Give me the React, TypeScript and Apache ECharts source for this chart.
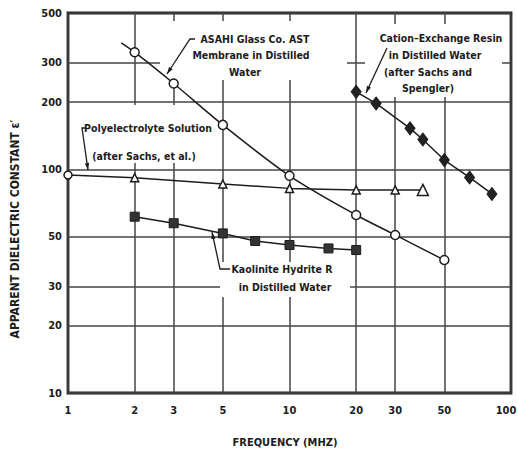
import React, { useEffect, useRef } from "react";
import * as echarts from "echarts";

const xTicks = [1, 2, 3, 5, 10, 20, 30, 50, 100];
const yTicks = [10, 20, 30, 50, 100, 200, 300, 500];

const asahiX = [1.74, 2, 3, 5, 10, 20, 30, 50];
const asahiY = [368, 334, 242, 158, 93.6, 62.5, 50.9, 39.3];
const polyX = [1, 2, 5, 10, 20, 30, 40];
const polyY = [94.3, 91.7, 86, 82.2, 80.9, 80.9, 80.9];
const kaolX = [2, 3, 5, 7, 10, 15, 20];
const kaolY = [61.4, 57.4, 51.7, 47.8, 45.9, 44.3, 43.6];
const cationX = [20, 24.6, 35, 40, 50, 65, 82];
const cationY = [222, 197, 152.5, 136, 110, 92, 77.6];

const FONT = "'DejaVu Sans Condensed', 'Liberation Sans Narrow', 'DejaVu Sans', sans-serif";
const INK = "#1c1c1c";

function txt(text: string, x: number, y: number, size = 10.5) {
  return {
    type: "text",
    x,
    y,
    z: 6,
    silent: true,
    style: {
      text,
      fill: INK,
      fontSize: size,
      fontWeight: "bold",
      fontFamily: FONT,
      align: "center",
      verticalAlign: "middle",
    },
  };
}

function leader(points: number[][]) {
  const n = points.length;
  const [tx, ty] = points[n - 1];
  const [fx, fy] = points[n - 2];
  const dx = tx - fx;
  const dy = ty - fy;
  const len = Math.sqrt(dx * dx + dy * dy);
  const ux = dx / len;
  const uy = dy / len;
  const L = 7;
  const w = 2.2;
  const bx = tx - ux * L;
  const by = ty - uy * L;
  return [
    {
      type: "polyline",
      z: 6,
      silent: true,
      shape: { points },
      style: { stroke: INK, lineWidth: 1.3, fill: null },
    },
    {
      type: "polygon",
      z: 6,
      silent: true,
      shape: {
        points: [
          [tx, ty],
          [bx - uy * w, by + ux * w],
          [bx + uy * w, by - ux * w],
        ],
      },
      style: { fill: INK },
    },
  ];
}

function mask(x: number, y: number, w: number, h: number) {
  return {
    type: "rect",
    z: 2,
    silent: true,
    shape: { x, y, width: w, height: h },
    style: { fill: "#ffffff" },
  };
}

export default function App() {
  const ref = useRef<HTMLDivElement>(null);
  useEffect(() => {
    if (!ref.current) return;
    const chart = echarts.init(ref.current, null, { renderer: "svg" });
    const labelBase = {
      show: true,
      color: INK,
      fontSize: 11,
      fontWeight: "bold",
      fontFamily: FONT,
    };
    const option: any = {
      animation: false,
      grid: {
        left: 68,
        right: 6,
        top: 13,
        bottom: 57,
        show: true,
        borderColor: "#1a1a1a",
        borderWidth: 2.8,
        backgroundColor: "transparent",
      },
      xAxis: {
        type: "log",
        logBase: 10,
        min: 1,
        max: 100,
        axisLabel: { show: false },
        axisTick: { show: false },
        axisLine: { show: false },
        splitLine: { show: false },
        minorSplitLine: { show: false },
      },
      yAxis: {
        type: "log",
        logBase: 10,
        min: 10,
        max: 500,
        axisLabel: { show: false },
        axisTick: { show: false },
        axisLine: { show: false },
        splitLine: { show: false },
      },
      graphic: {
        elements: [
          mask(160, 21, 187, 59),
          mask(365, 24, 137, 73),
          mask(78, 105, 134, 58),
          mask(220, 262, 130, 35),
          txt("ASAHI Glass Co. AST", 255, 39),
          txt("Membrane in Distilled", 251, 55),
          txt("Water", 245, 72),
          ...leader([
            [195, 39],
            [190, 39],
            [167, 74],
          ]),
          txt("Polyelectrolyte Solution", 148, 128),
          txt("(after Sachs, et al.)", 144, 156),
          ...leader([
            [86, 128],
            [82, 128],
            [88, 170],
          ]),
          txt("Cation–Exchange Resin", 441, 38),
          txt("in Distilled Water", 435, 55),
          txt("(after Sachs and", 428, 72),
          txt("Spengler)", 428, 88),
          ...leader([
            [387, 48],
            [366, 93],
          ]),
          txt("Kaolinite Hydrite R", 282, 269),
          txt("in Distilled Water", 285, 287),
          ...leader([
            [230, 269],
            [220, 269],
            [212, 232],
          ]),
          txt("FREQUENCY (MHZ)", 285, 442, 11),
          {
            type: "text",
            x: 15,
            y: 229,
            rotation: Math.PI / 2,
            z: 6,
            silent: true,
            style: {
              text: "APPARENT DIELECTRIC CONSTANT ε′",
              fill: INK,
              fontSize: 12,
              fontWeight: "bold",
              fontFamily: FONT,
              align: "center",
              verticalAlign: "middle",
            },
          },
        ],
      },
      series: [
        {
          type: "line",
          name: "grid",
          data: [],
          z: 1,
          silent: true,
          markLine: {
            silent: true,
            z: 1,
            animation: false,
            symbol: ["none", "none"],
            lineStyle: { color: "#444444", width: 1.5, type: "solid" },
            emphasis: { disabled: true },
            data: [
              ...yTicks.map((v) => ({
                yAxis: v,
                label: { ...labelBase, position: "start", distance: 6, formatter: String(v) },
              })),
              ...xTicks.map((v) => ({
                xAxis: v,
                label: {
                  ...labelBase,
                  position: "start",
                  distance: 12,
                  formatter: String(v),
                  offset: v === 100 ? [-5, 0] : [0, 0],
                },
              })),
            ],
          },
        },
        {
          type: "line",
          name: "ASAHI",
          z: 3,
          smooth: 0.3,
          symbol: "circle",
          symbolSize: 9,
          itemStyle: { color: "#ffffff", borderColor: INK, borderWidth: 1.5 },
          lineStyle: { color: INK, width: 1.5 },
          data: asahiX.map((x, i) =>
            i === 0 ? { value: [x, asahiY[i]], symbol: "none" } : [x, asahiY[i]]
          ),
        },
        {
          type: "line",
          name: "Polyelectrolyte",
          z: 3,
          symbol: "triangle",
          symbolSize: 8,
          itemStyle: { color: "#ffffff", borderColor: INK, borderWidth: 1.5 },
          lineStyle: { color: INK, width: 1.5 },
          data: polyX.map((x, i) =>
            i === 0
              ? { value: [x, polyY[i]], symbol: "circle" }
              : i === polyX.length - 1
              ? { value: [x, polyY[i]], symbolSize: 11 }
              : [x, polyY[i]]
          ),
        },
        {
          type: "line",
          name: "Kaolinite",
          z: 3,
          symbol: "rect",
          symbolSize: 9,
          itemStyle: { color: "#333333", borderColor: INK, borderWidth: 1 },
          lineStyle: { color: INK, width: 1.5 },
          data: kaolX.map((x, i) => [x, kaolY[i]]),
        },
        {
          type: "line",
          name: "Cation",
          z: 3,
          symbol: "diamond",
          symbolSize: [10, 13],
          itemStyle: { color: "#222222", borderColor: INK, borderWidth: 1 },
          lineStyle: { color: INK, width: 1.5 },
          data: cationX.map((x, i) => [x, cationY[i]]),
        },
      ],
    };
    chart.setOption(option);
    return () => chart.dispose();
  }, []);
  return (
    <div
      ref={ref}
      style={{ position: "fixed", left: 0, top: 0, width: 517, height: 450, background: "#fff" }}
    />
  );
}
